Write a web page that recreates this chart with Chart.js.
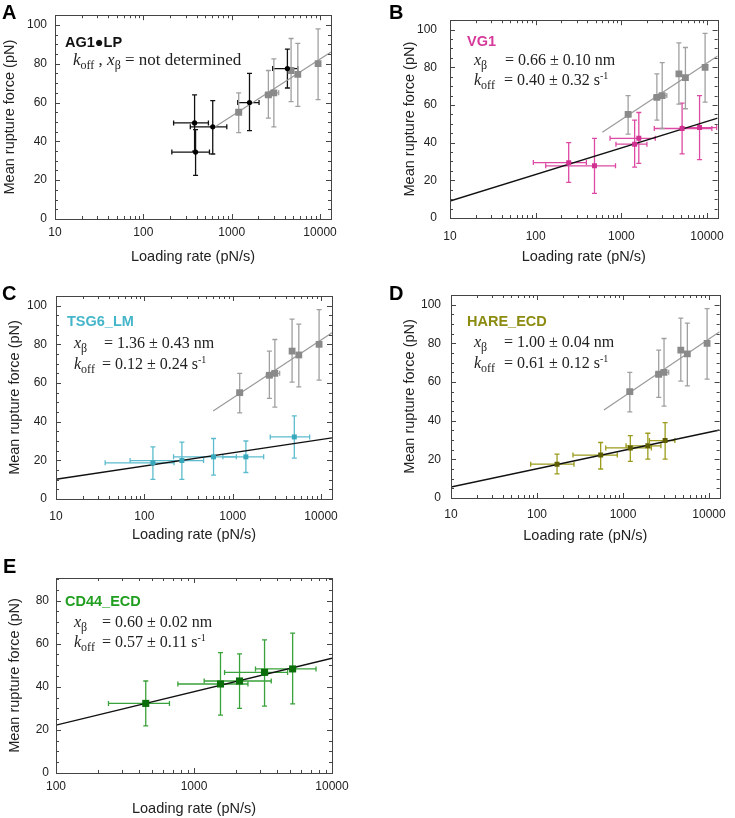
<!DOCTYPE html>
<html>
<head>
<meta charset="utf-8">
<script src="https://cdn.jsdelivr.net/npm/chart.js@4.4.1/dist/chart.umd.min.js"></script>
<style>
  body { margin: 0; background: #fff; }
  #fig { position: relative; width: 735px; height: 818px; }
  canvas { position: absolute; }
  .letter { position: absolute; font: bold 20px "Liberation Sans", Arial, sans-serif; color: #000; line-height: 1; }
  .name { position: absolute; font: bold 14.5px "Liberation Sans", Arial, sans-serif; line-height: 17px; }
  .eq { position: absolute; font: 16px "Liberation Serif", "Times New Roman", serif; color: #222; white-space: pre; line-height: 18px; }
  .eq i { font-style: italic; }
  .eq sub { font-size: 12px; vertical-align: -4px; line-height: 0; }
  .eq sup { font-size: 10px; vertical-align: 6px; line-height: 0; }
  .sym { display: inline-block; }
</style>
</head>
<body>
<div id="fig">
  <canvas id="chartA" width="367" height="270" style="left:0;top:0"></canvas>
  <canvas id="chartB" width="368" height="270" style="left:367px;top:0"></canvas>
  <canvas id="chartC" width="367" height="275" style="left:0;top:270px"></canvas>
  <canvas id="chartD" width="368" height="275" style="left:367px;top:270px"></canvas>
  <canvas id="chartE" width="367" height="273" style="left:0;top:545px"></canvas>

  <div class="letter" style="left:2px;top:2px">A</div>
  <div class="letter" style="left:389px;top:2px">B</div>
  <div class="letter" style="left:2px;top:283px">C</div>
  <div class="letter" style="left:389px;top:283px">D</div>
  <div class="letter" style="left:3px;top:556px">E</div>

  <div class="name" style="left:65px;top:34px;color:#111">AG1●LP</div>
  <div class="eq" style="left:73px;top:51px;font-size:17px"><i>k</i><sub>off</sub> , <i>x</i><sub>β</sub> = not determined</div>

  <div class="name" style="left:467px;top:33px;color:#d6399a">VG1</div>
  <div class="eq" style="left:474px;top:51px"><span class="sym" style="width:31px"><i>x</i><sub>β</sub></span>= 0.66 ± 0.10 nm</div>
  <div class="eq" style="left:474px;top:71px"><span class="sym" style="width:30px"><i>k</i><sub>off</sub></span>= 0.40 ± 0.32 s<sup>-1</sup></div>

  <div class="name" style="left:67px;top:313px;color:#45b6c9">TSG6_LM</div>
  <div class="eq" style="left:74px;top:334px"><span class="sym" style="width:30px"><i>x</i><sub>β</sub></span>= 1.36 ± 0.43 nm</div>
  <div class="eq" style="left:74px;top:355px"><span class="sym" style="width:28px"><i>k</i><sub>off</sub></span>= 0.12 ± 0.24 s<sup>-1</sup></div>

  <div class="name" style="left:467px;top:313px;color:#8c8c12">HARE_ECD</div>
  <div class="eq" style="left:474px;top:333px"><span class="sym" style="width:30px"><i>x</i><sub>β</sub></span>= 1.00 ± 0.04 nm</div>
  <div class="eq" style="left:474px;top:354px"><span class="sym" style="width:30px"><i>k</i><sub>off</sub></span>= 0.61 ± 0.12 s<sup>-1</sup></div>

  <div class="name" style="left:65px;top:593px;color:#1f9e1f">CD44_ECD</div>
  <div class="eq" style="left:74px;top:613px"><span class="sym" style="width:28px"><i>x</i><sub>β</sub></span>= 0.60 ± 0.02 nm</div>
  <div class="eq" style="left:74px;top:633px"><span class="sym" style="width:28px"><i>k</i><sub>off</sub></span>= 0.57 ± 0.11 s<sup>-1</sup></div>
</div>

<script>
// axis ticks
const xTicksAD = [10, 100, 1000, 10000];
const xTicksE = [100, 1000, 10000];
const yTicksAD = [0, 20, 40, 60, 80, 100];
const yTicksE = [0, 20, 40, 60, 80];

// gray reference series, repeated in A-D
const refRate = [1200, 2600, 3000, 4700, 5600, 9500];
const refForce = [55, 64, 65, 76.5, 74.5, 80];
const refRateLo = [1120, 2400, 2750, 4450, 5300, 9000];
const refRateHi = [1290, 2800, 3400, 4950, 5900, 10000];
const refForceLo = [44.5, 52, 47.5, 60.5, 58, 61.5];
const refForceHi = [65, 76.5, 82.5, 93, 90.5, 98];
const refFitA = [[650, 47.5], [13300, 86]];
const refFit = [[600, 45.5], [13300, 86]];

// A: AG1-LP
const agRate = [380, 390, 610, 1590, 4270];
const agForce = [49.5, 34.5, 47.5, 60, 77.5];
const agRateLo = [220, 210, 340, 1170, 2910];
const agRateHi = [545, 560, 880, 2040, 5590];
const agForceLo = [35, 22.5, 33.5, 45.5, 67.5];
const agForceHi = [64, 46, 61, 75, 87.5];

// B: VG1
const vgRate = [243, 486, 1430, 1600, 5120, 8190];
const vgForce = [29.4, 27.7, 39.2, 42.3, 47.5, 48];
const vgRateLo = [94, 131, 865, 738, 2425, 5120];
const vgRateHi = [391, 855, 1990, 2490, 11400, 13000];
const vgForceLo = [18.9, 13.1, 27, 29, 34, 31];
const vgForceHi = [40, 42.3, 52, 56, 61, 65];
const vgFit = [[10, 9], [13300, 53]];

// C: TSG6_LM
const tsRate = [125, 266, 607, 1410, 4980];
const tsForce = [18.7, 19.9, 21.8, 21.8, 32.1];
const tsRateLo = [36, 69, 214, 774, 2660];
const tsRateHi = [217, 468, 1100, 2240, 7430];
const tsForceLo = [10.1, 10.1, 12.4, 13.7, 21.1];
const tsForceHi = [27, 29.4, 31.3, 30, 43];
const tsFit = [[10, 10.2], [13300, 31.6]];

// D: HARE_ECD
const haRate = [171, 550, 1216, 1945, 3090];
const haForce = [17.5, 22.2, 25.9, 27, 29.7];
const haRateLo = [84.5, 262, 630, 1085, 2030];
const haRateHi = [269, 858, 2140, 2760, 4010];
const haForceLo = [12.5, 15, 18.9, 20.1, 20.1];
const haForceHi = [22.7, 28.7, 32.3, 33.5, 39];
const haFit = [[10, 5.7], [13300, 35.2]];

// E: CD44_ECD
const cdRate = [447, 1556, 2138, 3245, 5185];
const cdForce = [32.3, 41.3, 42.7, 46.7, 48.3];
const cdRateLo = [240, 764, 1185, 1665, 2790];
const cdRateHi = [664, 2460, 3630, 4770, 7660];
const cdForceLo = [21.9, 26.9, 30, 31, 32.1];
const cdForceHi = [42.7, 55.9, 55.3, 61.8, 64.9];
const cdFit = [[100, 22.2], [10000, 53.3]];

const SANS = '"Liberation Sans", Arial, sans-serif';

function toPoints(xs, ys) {
  return xs.map((x, i) => ({ x: x, y: ys[i] }));
}

function pointSet(xs, ys, xLo, xHi, yLo, yHi, color, barColor, style, radius) {
  return {
    type: 'scatter',
    data: toPoints(xs, ys),
    pointStyle: style,
    pointRadius: radius,
    backgroundColor: color,
    borderColor: color,
    borderWidth: 0,
    err: { xLo: xLo, xHi: xHi, yLo: yLo, yHi: yHi, color: barColor }
  };
}

function fitSet(pts, color, width) {
  return {
    type: 'line',
    data: pts.map(p => ({ x: p[0], y: p[1] })),
    borderColor: color,
    borderWidth: width,
    pointRadius: 0,
    fill: false
  };
}

function refSets(fit) {
  return [
    pointSet(refRate, refForce, refRateLo, refRateHi, refForceLo, refForceHi, '#8a8a8a', '#a0a0a0', 'rect', 4.8),
    fitSet(fit, '#9a9a9a', 1.2)
  ];
}

// error bars under the marks, frame and inward ticks on top
const framePlugin = {
  id: 'frame',
  beforeDatasetsDraw(chart) {
    const ctx = chart.ctx;
    const a = chart.chartArea;
    const xs = chart.scales.x;
    const ys = chart.scales.y;
    ctx.save();
    ctx.beginPath();
    ctx.rect(a.left, a.top, a.right - a.left, a.bottom - a.top);
    ctx.clip();
    chart.data.datasets.forEach(ds => {
      if (!ds.err) return;
      ctx.strokeStyle = ds.err.color;
      ctx.lineWidth = 1.3;
      ds.data.forEach((p, i) => {
        const px = xs.getPixelForValue(p.x);
        const py = ys.getPixelForValue(p.y);
        const x0 = xs.getPixelForValue(ds.err.xLo[i]);
        const x1 = xs.getPixelForValue(ds.err.xHi[i]);
        const y0 = ys.getPixelForValue(ds.err.yLo[i]);
        const y1 = ys.getPixelForValue(ds.err.yHi[i]);
        const c = 2.5;
        ctx.beginPath();
        ctx.moveTo(x0, py); ctx.lineTo(x1, py);
        ctx.moveTo(x0, py - c); ctx.lineTo(x0, py + c);
        ctx.moveTo(x1, py - c); ctx.lineTo(x1, py + c);
        ctx.moveTo(px, y0); ctx.lineTo(px, y1);
        ctx.moveTo(px - c, y0); ctx.lineTo(px + c, y0);
        ctx.moveTo(px - c, y1); ctx.lineTo(px + c, y1);
        ctx.stroke();
      });
    });
    ctx.restore();
  },
  afterDraw(chart) {
    const ctx = chart.ctx;
    const a = chart.chartArea;
    const xs = chart.scales.x;
    const ys = chart.scales.y;
    ctx.save();
    ctx.strokeStyle = '#444';
    ctx.lineWidth = 1;
    ctx.strokeRect(Math.round(a.left) + 0.5, Math.round(a.top) + 0.5,
      Math.round(a.right - a.left), Math.round(a.bottom - a.top));
    ctx.beginPath();
    for (let v = 0; v <= ys.max; v += 5) {
      const y = Math.round(ys.getPixelForValue(v)) + 0.5;
      const len = v % 20 == 0 ? 5 : 3;
      ctx.moveTo(a.left, y); ctx.lineTo(a.left + len, y);
      ctx.moveTo(a.right, y); ctx.lineTo(a.right - len, y);
    }
    const d0 = Math.floor(Math.log10(xs.min));
    const d1 = Math.ceil(Math.log10(xs.max));
    for (let d = d0; d <= d1; d++) {
      for (let m = 1; m < 10; m++) {
        const v = m * Math.pow(10, d);
        if (v < xs.min || v > xs.max) continue;
        const x = Math.round(xs.getPixelForValue(v)) + 0.5;
        const len = m == 1 ? 5 : 3;
        ctx.moveTo(x, a.bottom); ctx.lineTo(x, a.bottom - len);
        ctx.moveTo(x, a.top); ctx.lineTo(x, a.top + len);
      }
    }
    ctx.stroke();
    ctx.restore();
  }
};

function makeChart(id, datasets, g) {
  const canvas = document.getElementById(id);
  return new Chart(canvas, {
    data: { datasets: datasets },
    plugins: [framePlugin],
    options: {
      responsive: false,
      animation: false,
      layout: { padding: { left: g.padLeft, top: g.padTop, right: g.padRight, bottom: 0 } },
      plugins: { legend: { display: false }, tooltip: { enabled: false } },
      scales: {
        x: {
          type: 'logarithmic',
          min: g.xMin,
          max: g.xMax,
          grid: { display: false, drawTicks: false },
          border: { display: false },
          afterBuildTicks: s => { s.ticks = g.xTicks.map(v => ({ value: v })); },
          afterFit: s => { s.height = g.xHeight; },
          ticks: {
            autoSkip: false,
            maxRotation: 0,
            padding: g.xPad,
            color: '#222',
            font: { family: SANS, size: 12 },
            callback: v => String(v)
          },
          title: {
            display: true,
            text: 'Loading rate (pN/s)',
            color: '#222',
            font: { family: SANS, size: 14.5 },
            padding: { top: 0, bottom: g.xTitlePad }
          }
        },
        y: {
          type: 'linear',
          min: 0,
          max: g.yMax,
          grid: { display: false, drawTicks: false },
          border: { display: false },
          afterBuildTicks: s => { s.ticks = g.yTicks.map(v => ({ value: v })); },
          afterFit: s => { s.width = g.yWidth; },
          ticks: {
            padding: g.yPad,
            color: '#222',
            font: { family: SANS, size: 12 }
          },
          title: {
            display: true,
            text: 'Mean rupture force (pN)',
            color: '#222',
            font: { family: SANS, size: 14.5 },
            padding: { top: 1, bottom: 0 }
          }
        }
      }
    }
  });
}

makeChart('chartA', [
  pointSet(agRate, agForce, agRateLo, agRateHi, agForceLo, agForceHi, '#000', '#111', 'circle', 2.6),
  ...refSets(refFitA)
], { padLeft: 0, padTop: 15, padRight: 36, yWidth: 55, xHeight: 51, xMin: 10, xMax: 13300,
     yMax: 105, xTicks: xTicksAD, yTicks: yTicksAD, xPad: 6, yPad: 8, xTitlePad: 4 });

makeChart('chartB', [
  pointSet(vgRate, vgForce, vgRateLo, vgRateHi, vgForceLo, vgForceHi, '#d0308f', '#dc4aa3', 'rect', 3.5),
  fitSet(vgFit, '#111', 1.4),
  ...refSets(refFit)
], { padLeft: 33, padTop: 13, padRight: 8, yWidth: 50, xHeight: 52, xMin: 10, xMax: 13300,
     yMax: 105, xTicks: xTicksAD, yTicks: yTicksAD, xPad: 11, yPad: 13, xTitlePad: 4 });

makeChart('chartC', [
  pointSet(tsRate, tsForce, tsRateLo, tsRateHi, tsForceLo, tsForceHi, '#38a8bd', '#5cbccd', 'rect', 3.5),
  fitSet(tsFit, '#111', 1.4),
  ...refSets(refFit)
], { padLeft: 5, padTop: 26, padRight: 35, yWidth: 51, xHeight: 46, xMin: 10, xMax: 13300,
     yMax: 105, xTicks: xTicksAD, yTicks: yTicksAD, xPad: 10, yPad: 9, xTitlePad: 1 });

makeChart('chartD', [
  pointSet(haRate, haForce, haRateLo, haRateHi, haForceLo, haForceHi, '#5f5f00', '#9b9b1c', 'rect', 3.5),
  fitSet(haFit, '#111', 1.4),
  ...refSets(refFit)
], { padLeft: 33, padTop: 25, padRight: 8, yWidth: 51, xHeight: 47, xMin: 10, xMax: 13300,
     yMax: 105, xTicks: xTicksAD, yTicks: yTicksAD, xPad: 9, yPad: 10, xTitlePad: 0 });

makeChart('chartE', [
  pointSet(cdRate, cdForce, cdRateLo, cdRateHi, cdForceLo, cdForceHi, '#0b6e0b', '#3aa23a', 'rect', 5),
  fitSet(cdFit, '#111', 1.4)
], { padLeft: 5, padTop: 33, padRight: 35, yWidth: 51, xHeight: 45, xMin: 100, xMax: 10000,
     yMax: 90.5, xTicks: xTicksE, yTicks: yTicksE, xPad: 6, yPad: 7, xTitlePad: 0 });
</script>
</body>
</html>
